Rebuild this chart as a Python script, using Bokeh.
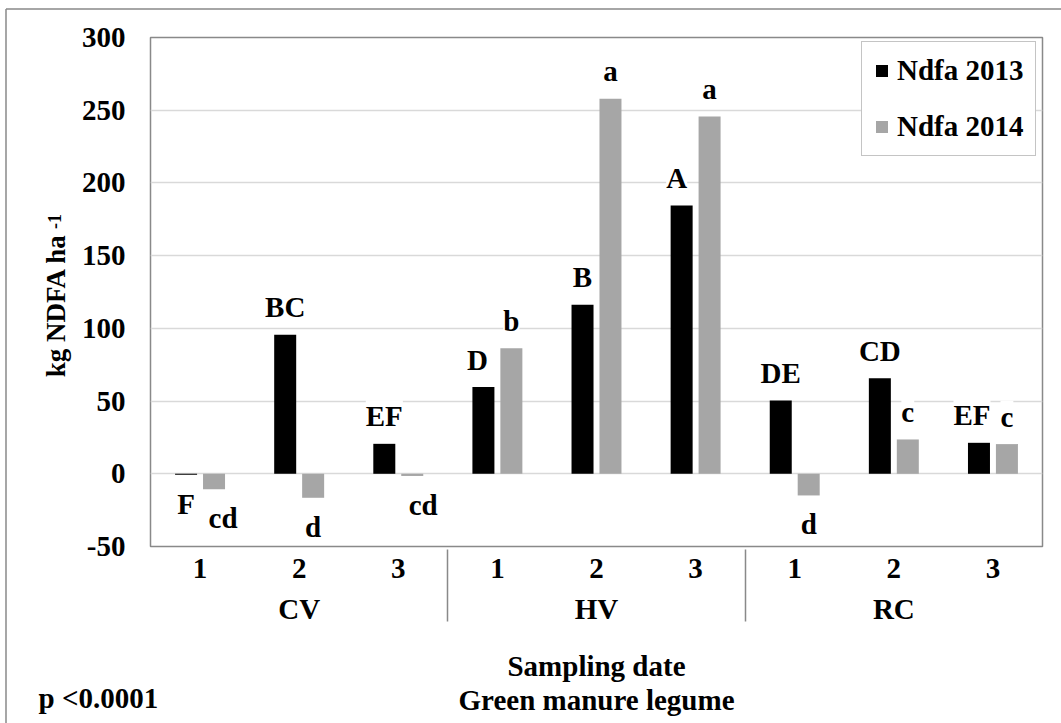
from math import pi
from bokeh.plotting import figure
from bokeh.core.properties import value
from bokeh.models import (ColumnDataSource, FactorRange, Range1d, FixedTicker,
                          LabelSet, Legend, LegendItem)
from bokeh.transform import dodge
from bokeh.embed import file_html
from bokeh.resources import INLINE

# ---------------- data ----------------
legumes = ["CV", "HV", "RC"]
dates = ["1", "2", "3"]
series_names = ["Ndfa 2013", "Ndfa 2014"]
ndfa_2013 = [-0.7, 95.6, 20.6, 59.6, 116.2, 184.5, 50.4, 65.7, 21.3]
ndfa_2014 = [-10.6, -16.5, -1.5, 86.4, 257.9, 245.7, -14.9, 23.6, 20.4]
letters_2013 = ["F", "BC", "EF", "D", "B", "A", "DE", "CD", "EF"]
letters_2014 = ["cd", "d", "cd", "b", "a", "a", "d", "c", "c"]
y_ticks = [-50, 0, 50, 100, 150, 200, 250, 300]
y_title = "kg NDFA ha"
y_title_sup = "-1"
x_title_1 = "Sampling date"
x_title_2 = "Green manure legume"
p_note = "p <0.0001"

# ---------------- style ----------------
FONT = "Liberation Serif"
FS = "29px"
C13 = "#000000"
C14 = "#a6a6a6"
GRID = "#d9d9d9"
FRAME = "#898989"
W, H = 1061, 723
FL, FR, FT, FB = 150, 1042, 37, 546
YMIN, YMAX = -50, 300
BAR_W = 0.222
OFF = 0.141
NBSP = "\u00a0"
# small manual label nudges (pixels), as in the original chart
nudge_2013 = {3: -6, 5: -5, 8: -7}
nudge_2014 = {0: 9, 2: 11}

factors = [(g, d) for g in legumes for d in dates]
NCAT = len(factors)


def sx_to_x(px):
    return (px - FL) / (FR - FL) * NCAT


def sy_to_y(py):
    return YMAX - (py - FT) / (FB - FT) * (YMAX - YMIN)


def dy(v):
    return 17.5 if v >= 0 else -39


source = ColumnDataSource(dict(
    x=factors,
    y13=ndfa_2013, y14=ndfa_2014,
    l13=letters_2013, l14=letters_2014,
    dy13=[dy(v) for v in ndfa_2013], dy14=[dy(v) for v in ndfa_2014],
    dx13=[nudge_2013.get(i, 0) for i in range(NCAT)],
    dx14=[nudge_2014.get(i, 0) for i in range(NCAT)],
))

p = figure(width=W, height=H, title=None,
           x_range=FactorRange(*factors, factor_padding=0, group_padding=0, range_padding=0),
           y_range=Range1d(YMIN, YMAX),
           output_backend="svg", toolbar_location=None,
           min_border_left=FL, min_border_right=W - FR,
           min_border_top=FT, min_border_bottom=H - FB,
           outline_line_color=FRAME, outline_line_width=1.5,
           background_fill_color="white", border_fill_color="white")

r13 = p.vbar(x=dodge("x", -OFF, range=p.x_range), top="y13", bottom=0, width=BAR_W,
             source=source, fill_color=C13, line_color=None)
r14 = p.vbar(x=dodge("x", OFF, range=p.x_range), top="y14", bottom=0, width=BAR_W,
             source=source, fill_color=C14, line_color=None)

lab_kw = dict(text_font=FONT, text_font_size=FS, text_font_style="bold", text_color="black",
              text_align="center", text_baseline="alphabetic",
              background_fill_color="white", source=source)
p.add_layout(LabelSet(x=dodge("x", -OFF, range=p.x_range), y="y13", text="l13",
                      x_offset="dx13", y_offset="dy13", **lab_kw))
p.add_layout(LabelSet(x=dodge("x", OFF, range=p.x_range), y="y14", text="l14",
                      x_offset="dx14", y_offset="dy14", **lab_kw))

# axes
p.yaxis.ticker = FixedTicker(ticks=y_ticks)
p.yaxis.major_label_overrides = {t: str(t) for t in y_ticks}
p.yaxis.major_tick_line_color = None
p.yaxis.major_tick_out = 0
p.yaxis.major_tick_in = 0
p.yaxis.minor_tick_line_color = None
p.yaxis.axis_line_color = None
p.yaxis.major_label_standoff = 25
p.yaxis.major_label_text_font = FONT
p.yaxis.major_label_text_font_size = FS
p.yaxis.major_label_text_font_style = "bold"
p.yaxis.major_label_text_color = "black"
# axis title; trailing no-break spaces leave room for the superscript
p.yaxis.axis_label = y_title + NBSP * 4
p.yaxis.axis_label_standoff = 8
p.yaxis.axis_label_text_font = FONT
p.yaxis.axis_label_text_font_size = "27px"
p.yaxis.axis_label_text_font_style = "bold"
p.yaxis.axis_label_text_color = "black"

p.xaxis.major_tick_line_color = None
p.xaxis.major_tick_out = 0
p.xaxis.major_tick_in = 0
p.xaxis.axis_line_color = None
p.xaxis.major_label_standoff = 12
p.xaxis.major_label_text_font = FONT
p.xaxis.major_label_text_font_size = FS
p.xaxis.major_label_text_font_style = "bold"
p.xaxis.major_label_text_color = "black"
p.xaxis.group_text_font = FONT
p.xaxis.group_text_font_size = FS
p.xaxis.group_text_font_style = "bold"
p.xaxis.group_text_color = "black"
p.xaxis.separator_line_color = FRAME
p.xaxis.separator_line_width = 1.5

p.ygrid.ticker = FixedTicker(ticks=y_ticks)
p.ygrid.grid_line_color = GRID
p.ygrid.grid_line_width = 1.3
p.xgrid.grid_line_color = None

# legend
legend = Legend(items=[LegendItem(label=series_names[0], renderers=[r13]),
                       LegendItem(label=series_names[1], renderers=[r14])],
                location=(861 - FL, FB - 156), orientation="vertical",
                label_text_font=FONT, label_text_font_size=FS, label_text_font_style="bold",
                label_text_color="black", glyph_width=15, glyph_height=15,
                label_standoff=8, padding=12, spacing=23, margin=0,
                border_line_color=FRAME, border_line_width=1.5,
                background_fill_color="white", background_fill_alpha=1)
p.add_layout(legend)

# titles / notes (drawn at overlay level so they may sit outside the frame)
txt_kw = dict(text_font=value(FONT), text_font_style="bold", text_color="black",
              text_baseline="alphabetic", level="overlay")
p.text(x=[NCAT / 2, NCAT / 2], y=[sy_to_y(665), sy_to_y(699)], text=[x_title_1, x_title_2],
       text_align="center", text_font_size=value(FS), **txt_kw)
p.text(x=[sx_to_x(38)], y=[sy_to_y(697)], text=[p_note], text_align="left",
       text_font_size=value(FS), **txt_kw)
p.text(x=[sx_to_x(54)], y=[sy_to_y(221)], text=[y_title_sup], angle=pi / 2,
       text_align="center", text_font_size=value("18px"), **txt_kw)

# outer chart-area border (only its left and top edges fall inside the picture)
p.segment(x0=[sx_to_x(5.5), sx_to_x(5.5)], y0=[sy_to_y(8.5), sy_to_y(8.5)],
          x1=[sx_to_x(5.5), sx_to_x(1300)], y1=[sy_to_y(1000), sy_to_y(8.5)],
          line_color=FRAME, line_width=1.5, level="overlay")

open("out.html", "w").write(file_html(p, INLINE))
